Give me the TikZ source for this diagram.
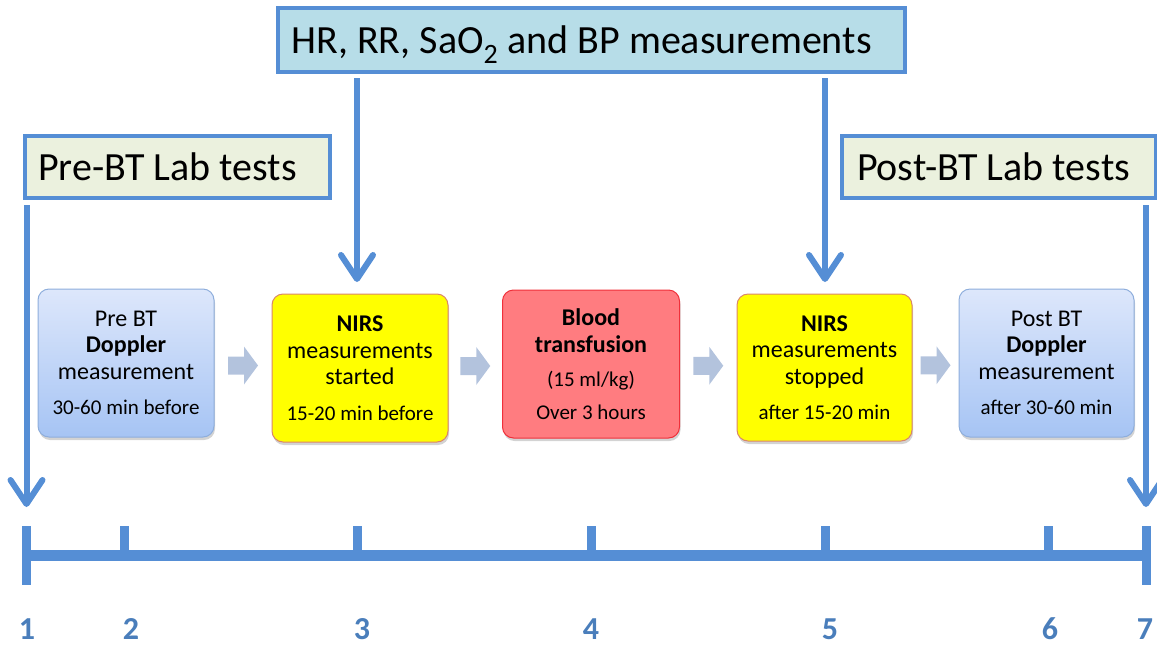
\documentclass[tikz,border=0pt]{standalone}
\usepackage{fontspec}
\setmainfont{Carlito}
\usetikzlibrary{arrows.meta,calc,shadows}
\definecolor{lineblue}{HTML}{558ED5}
\definecolor{numblue}{HTML}{4A7EBB}
\definecolor{topfill}{HTML}{B7DDE8}
\definecolor{labfill}{HTML}{EBF1DE}
\definecolor{dopTop}{HTML}{DDE7FB}
\definecolor{dopBot}{HTML}{A6C4F4}
\definecolor{dopBorder}{HTML}{8EAEDC}
\definecolor{nirsBorder}{HTML}{D9866A}
\definecolor{nirsFill}{HTML}{FFFF00}
\definecolor{bloodFill}{HTML}{FF7C80}
\definecolor{bloodBorder}{HTML}{F0303A}
\definecolor{arrfill}{HTML}{B3C3DD}
\tikzset{
  x=1pt, y=-1pt,
  every node/.style={inner sep=0pt, outer sep=0pt},
  headbox/.style={draw=lineblue, line width=3.5pt, fill=topfill, align=flush left,
    font=\fontsize{40}{46}\selectfont, minimum height=64pt, text depth=0pt},
  labbox/.style={draw=lineblue, line width=3.5pt, fill=labfill, align=flush left,
    font=\fontsize{40}{46}\selectfont, minimum height=62pt},
  stepbox/.style={rounded corners=11pt, minimum width=176pt, minimum height=148pt,
    align=center, font=\fontsize{24}{26.5}\selectfont,
    drop shadow={shadow xshift=1pt, shadow yshift=-3pt, opacity=0.35}},
  dopbox/.style={stepbox, draw=dopBorder, line width=1pt, top color=dopTop, bottom color=dopBot},
  nirsbox/.style={stepbox, draw=nirsBorder, line width=1pt, fill=nirsFill},
  bloodbox/.style={stepbox, draw=bloodBorder, line width=1pt, fill=bloodFill},
  bigarrow/.style={draw=lineblue, line width=6pt,
    -{Straight Barb[length=24pt,width=32pt,line width=6pt,line join=round,line cap=round]}},
  axis/.style={draw=lineblue, line width=11pt},
  tick/.style={draw=lineblue, line width=9pt},
  num/.style={text=numblue, inner sep=1pt, font=\fontsize{32}{34}\selectfont\bfseries},
  blockarr/.pic={\fill[arrfill] (-15,-9) -- (1,-9) -- (1,-19) -- (15,0) -- (1,19) -- (1,9) -- (-15,9) -- cycle;}
}
\newcommand{\sm}[1]{{\fontsize{21}{23}\selectfont #1}}
\begin{document}
\begin{tikzpicture}
\useasboundingbox (0,0) rectangle (1157,646);

% header boxes
\node[headbox, text width=600pt, inner xsep=13.5pt] (hdr) at (591.5,40)
  {HR, RR, SaO\textsubscript{2} and BP measurements};
\node[labbox, text width=279pt, inner xsep=13pt] (pre) at (177.5,167) {Pre-BT Lab tests};
\node[labbox, text width=284pt, inner xsep=15pt] (post) at (999,167) {Post-BT Lab tests};

% step boxes
\node[dopbox] (b1) at (126,363)
  {Pre BT\\\textbf{Doppler}\\measurement\\[9pt]\sm{30-60 min before}};
\node[nirsbox] (b2) at (360,368)
  {\textbf{NIRS}\\measurements\\started\\[9pt]\sm{15-20 min before}};
\node[bloodbox, minimum width=177pt] (b3) at (591,364)
  {\textbf{Blood}\\\textbf{transfusion}\\[8pt]\sm{(15 ml/kg)}\\[6pt]\sm{Over 3 hours}};
\node[nirsbox, minimum width=175pt, minimum height=147pt] (b4) at (824.5,367.5)
  {\textbf{NIRS}\\measurements\\stopped\\[9pt]\sm{after 15-20 min}};
\node[dopbox, minimum width=175pt] (b5) at (1046.5,363)
  {Post BT\\\textbf{Doppler}\\measurement\\[9pt]\sm{after 30-60 min}};

% block arrows between steps
\path ($(b1.east)!0.5!(b2.west)$) pic {blockarr};
\path ($(b2.east)!0.5!(b3.west)$) pic {blockarr};
\path ($(b3.east)!0.5!(b4.west)$) pic {blockarr};
\path ($(b4.east)!0.5!(b5.west)$) pic {blockarr};

% timeline
\coordinate (t1) at (26.5,555);
\coordinate (t2) at (124,555);
\coordinate (t3) at (357,555);
\coordinate (t4) at (591,555);
\coordinate (t5) at (825,555);
\coordinate (t6) at (1048,555);
\coordinate (t7) at (1146,555);
\draw[axis] (t1) -- (t7);
\draw[tick] ($(t1)+(0,-29)$) -- ($(t1)+(0,30)$);
\draw[tick] ($(t7)+(0,-29)$) -- ($(t7)+(0,30)$);
\foreach \t in {t2,t3,t4,t5,t6}
  \draw[tick] ($(\t)+(0,-29)$) -- (\t);

% vertical arrows
\draw[bigarrow, shorten <=6pt, shorten >=12pt] (hdr.south -| t3) -- (b2.north -| t3);
\draw[bigarrow, shorten <=6pt, shorten >=12pt] (hdr.south -| t5) -- (b4.north -| t5);
\draw[bigarrow, shorten <=7pt, shorten >=48pt] (pre.south -| t1) -- (t1);
\draw[bigarrow, shorten <=7pt, shorten >=48pt] (post.south -| t7) -- (t7);

% numbers
\node[num] (n1) at (27,629) {1};
\node[num] (n2) at (131,629) {2};
\node[num] (n3) at (362,629) {3};
\node[num] (n4) at (591,629) {4};
\node[num] (n5) at (830,629) {5};
\node[num] (n6) at (1050,629) {6};
\node[num] (n7) at (1145,629) {7};
\end{tikzpicture}
\end{document}
